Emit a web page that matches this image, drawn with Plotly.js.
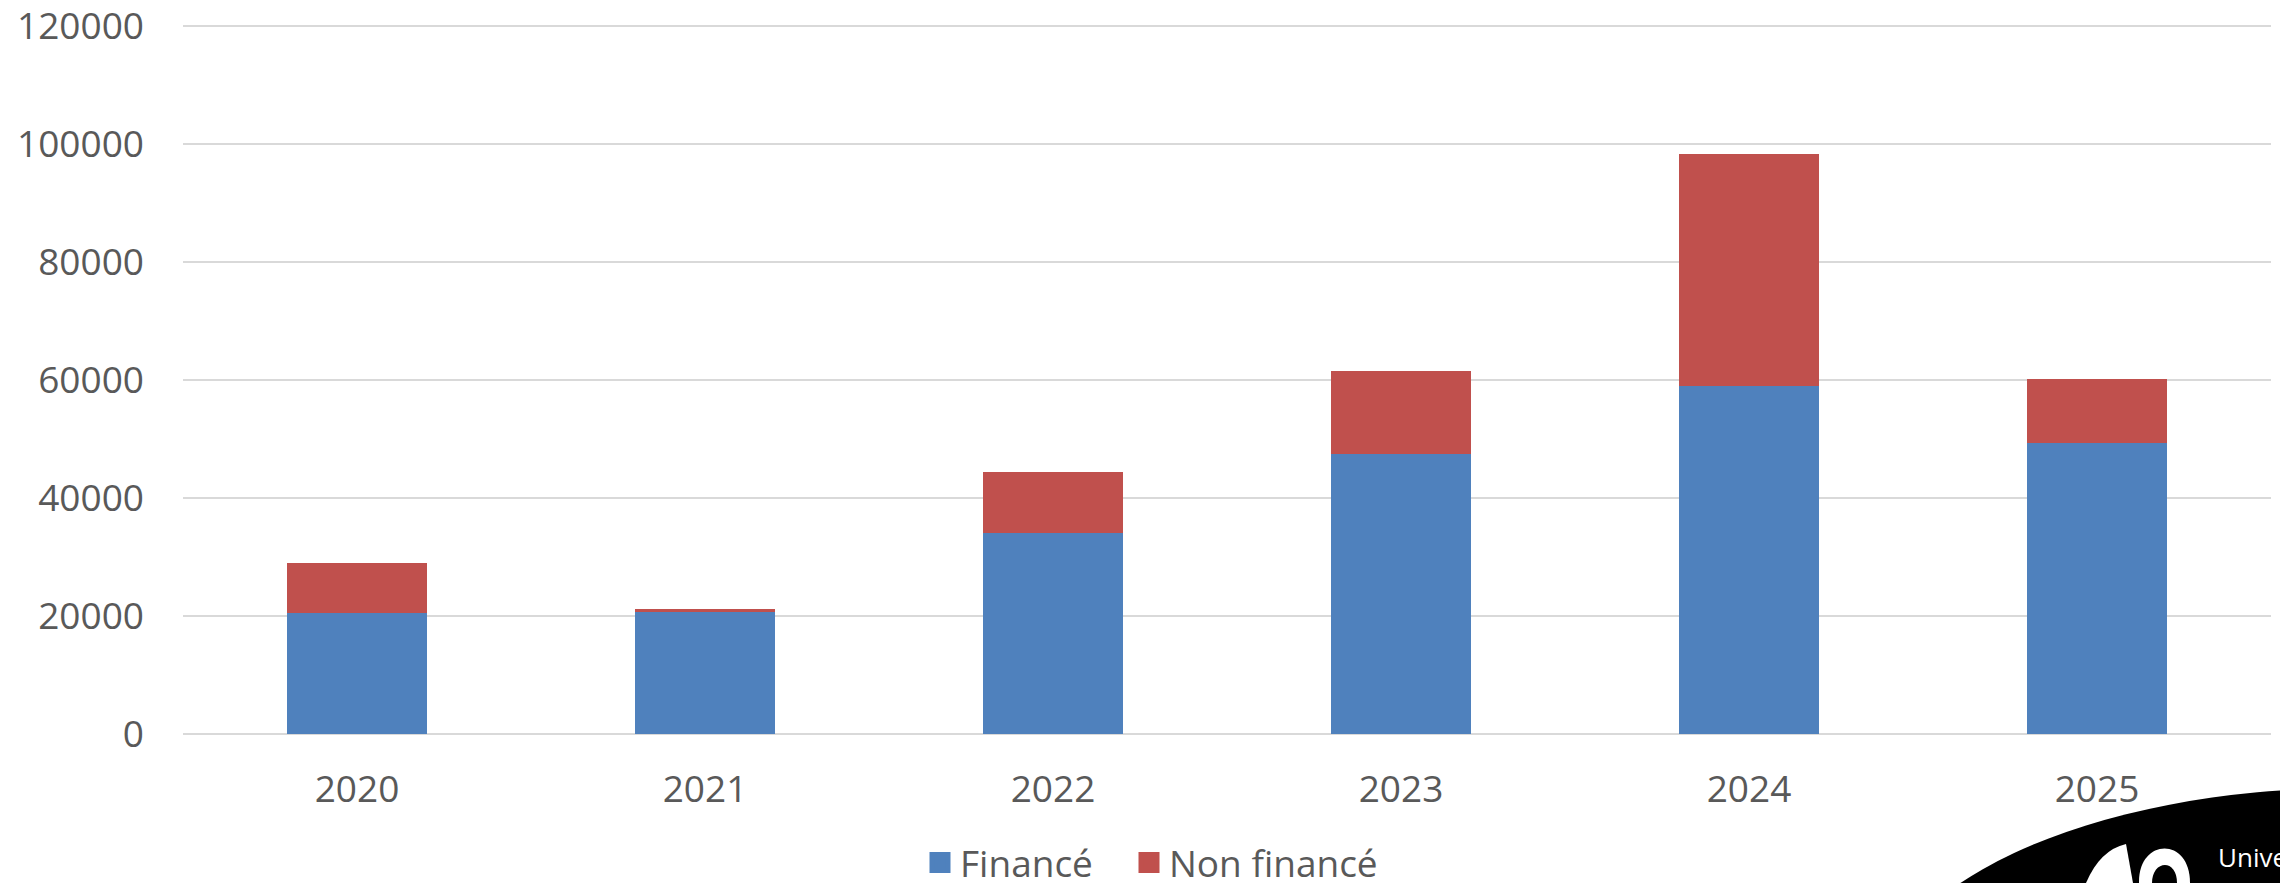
<!DOCTYPE html>
<html>
<head>
<meta charset="utf-8">
<script src="https://cdn.plot.ly/plotly-3.0.1.min.js"></script>
<style>
  html, body { margin: 0; padding: 0; background: #ffffff; }
  #chart { width: 2280px; height: 883px; }
</style>
</head>
<body>
<div id="chart"></div>
<script>
// ---- data ----
const years = ["2020", "2021", "2022", "2023", "2024", "2025"];
const finance = [20500, 20600, 34000, 47400, 59000, 49300];
const nonFinance = [8400, 600, 10400, 14100, 39300, 10800];
const seriesNames = ["Financé", "Non financé"];
const seriesColors = ["#4F81BD", "#C0504D"];
const yTickValues = [0, 20000, 40000, 60000, 80000, 100000, 120000];

// ---- layout helpers (pixel -> paper) ----
const W = 2280, H = 883;
const M = { l: 183, r: 9, t: 24, b: 149, autoexpand: false };
const PW = W - M.l - M.r, PH = H - M.t - M.b;
const Y0PX = H - M.b;                 // pixel row of value 0
const PX_PER_UNIT = 118 / 20000;      // scale
const yTop = PH / PX_PER_UNIT;        // axis max so that gridlines land where the reference has them
const px = v => (v - M.l) / PW;
const py = v => (Y0PX - v) / PH;

const FONT = "Open Sans, Lato, Liberation Sans, sans-serif";
const GREY = "#595959";

const traces = [
  {
    type: "bar", name: seriesNames[0], x: years, y: finance,
    marker: { color: seriesColors[0], line: { width: 0 } },
    showlegend: false, legendgroup: "a"
  },
  {
    type: "bar", name: seriesNames[1], x: years, y: nonFinance,
    marker: { color: seriesColors[1], line: { width: 0 } },
    showlegend: false, legendgroup: "b"
  },
  // legend-only entries (bigger square keys, like the reference)
  {
    type: "scatter", mode: "markers", name: seriesNames[0], x: [null], y: [null],
    marker: { symbol: "square", size: 16, color: seriesColors[0], line: { width: 5, color: seriesColors[0] } },
    legendgroup: "a", legend: "legend", hoverinfo: "skip"
  },
  {
    type: "scatter", mode: "markers", name: seriesNames[1], x: [null], y: [null],
    marker: { symbol: "square", size: 16, color: seriesColors[1], line: { width: 5, color: seriesColors[1] } },
    legendgroup: "b", legend: "legend2", hoverinfo: "skip"
  }
];

function P(points) {
  return points.map(p => px(p[0]).toFixed(5) + "," + py(p[1]).toFixed(5));
}

const logoShapes = [
  {
    type: "circle", xref: "paper", yref: "paper", layer: "above",
    x0: px(1875), x1: px(2825), y0: py(1232), y1: py(788),
    fillcolor: "#000000", line: { width: 0 }
  },
  {
    type: "path", xref: "paper", yref: "paper", layer: "above",
    path: (() => { const a = P([[2086, 883], [2100, 850], [2126, 844], [2133, 883]]);
      return "M" + a[0] + " Q" + a[1] + " " + a[2] + " L" + a[3] + " Z"; })(),
    fillcolor: "#ffffff", line: { width: 0 }
  },
  {
    type: "path", xref: "paper", yref: "paper", layer: "above",
    path: (() => { const a = P([[2139, 883], [2138, 838], [2190, 836], [2190, 883]]);
      return "M" + a[0] + " C" + a[1] + " " + a[2] + " " + a[3] + " Z"; })(),
    fillcolor: "#ffffff", line: { width: 0 }
  },
  {
    type: "path", xref: "paper", yref: "paper", layer: "above",
    path: (() => { const a = P([[2152, 883], [2152, 860], [2177, 858], [2177, 883]]);
      return "M" + a[0] + " C" + a[1] + " " + a[2] + " " + a[3] + " Z"; })(),
    fillcolor: "#000000", line: { width: 0 }
  }
];

function legendAt(leftPx) {
  return {
    orientation: "h",
    xref: "container", yref: "container",
    x: leftPx / W, xanchor: "left",
    y: (H - 863) / H, yanchor: "middle",
    font: { family: FONT, size: 37, color: GREY },
    bgcolor: "rgba(0,0,0,0)", borderwidth: 0
  };
}

const layout = {
  width: W, height: H,
  margin: M,
  paper_bgcolor: "#ffffff",
  plot_bgcolor: "#ffffff",
  barmode: "stack",
  bargap: 0.6,
  font: { family: FONT, color: GREY, size: 37 },
  showlegend: true,
  legend: legendAt(920),
  legend2: legendAt(1129),
  xaxis: {
    type: "category",
    tickfont: { family: FONT, size: 37, color: GREY },
    showgrid: false, showline: false, zeroline: false,
    ticks: "", ticklabelstandoff: 30,
    automargin: false,
    fixedrange: true
  },
  yaxis: {
    range: [0, yTop],
    tickvals: yTickValues,
    ticktext: yTickValues.map(v => String(v)),
    tickfont: { family: FONT, size: 37, color: GREY },
    ticklabeloverflow: "allow",
    showgrid: true, gridcolor: "#D9D9D9", gridwidth: 1.6,
    zeroline: true, zerolinecolor: "#D9D9D9", zerolinewidth: 1.6,
    showline: false, ticks: "", ticklabelstandoff: 38,
    automargin: false,
    fixedrange: true
  },
  shapes: logoShapes,
  annotations: [
    {
      xref: "paper", yref: "paper", x: px(2216), y: py(857),
      xanchor: "left", yanchor: "middle", showarrow: false,
      text: "Université", font: { family: FONT, size: 26, color: "#ffffff" }
    },
    {
      xref: "paper", yref: "paper", x: px(2216), y: py(893),
      xanchor: "left", yanchor: "middle", showarrow: false,
      text: "<b>BORDEAUX</b>", font: { family: FONT, size: 26, color: "#ffffff" }
    }
  ]
};

Plotly.newPlot("chart", traces, layout, { displayModeBar: false, staticPlot: true });
</script>
</body>
</html>
